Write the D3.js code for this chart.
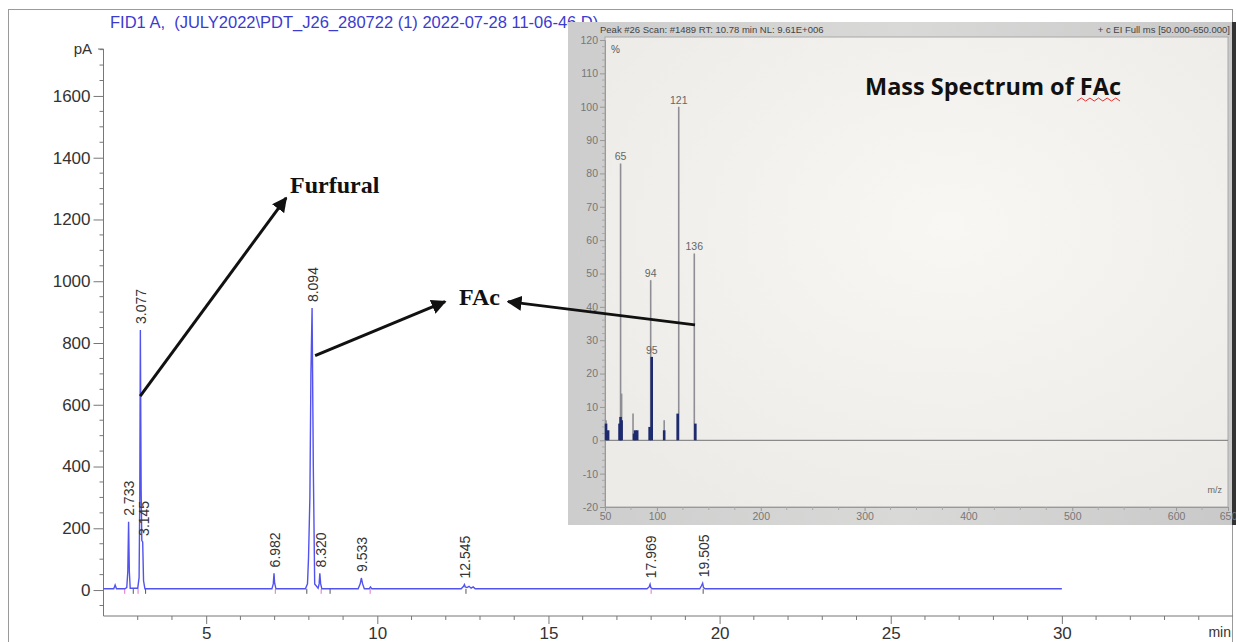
<html>
  <head>
    <meta charset="utf-8">
    <style>
      body { margin: 0; background: #fff; }
      text { font-family: "Liberation Sans", Arial, sans-serif; }
    </style>
  </head>
  <body>
    <div id="chart">
      <svg width=1236 height=642></svg>
    </div>
    <script type="text/javascript" src="https://cdnjs.cloudflare.com/ajax/libs/d3/7.8.5/d3.min.js"></script>
    <script type="text/javascript">
// chromatogram trace (min, pA)
var traceT = [2.0, 2.30, 2.34, 2.38, 2.62, 2.68, 2.71, 2.733, 2.755, 2.78, 3.00, 3.04, 3.06, 3.077, 3.10, 3.12, 3.145, 3.17, 3.21,
              6.92, 6.96, 6.982, 7.00, 7.04, 7.90, 7.96, 7.99, 8.03, 8.06, 8.094, 8.13, 8.17, 8.27, 8.30, 8.320, 8.345, 8.38,
              9.44, 9.50, 9.533, 9.57, 9.62, 9.76, 9.80, 9.84, 12.45, 12.52, 12.545, 12.57, 12.62, 12.68, 12.74, 12.80, 12.86,
              17.88, 17.94, 17.969, 17.99, 18.04, 19.42, 19.47, 19.505, 19.53, 19.58, 30.0];
var traceY = [4, 4, 16, 4, 4, 8, 60, 221, 60, 6, 6, 40, 300, 842, 320, 160, 156, 30, 4,
              4, 20, 54, 22, 4, 4, 20, 105, 300, 700, 913, 400, 20, 6, 20, 54, 20, 4,
              4, 20, 39, 20, 4, 4, 10, 4, 4, 12, 18, 10, 8, 12, 6, 10, 4,
              4, 10, 19, 8, 4, 4, 14, 22, 8, 4, 4];

var peakT = [2.733, 3.077, 3.145, 6.982, 8.094, 8.320, 9.533, 12.545, 17.969, 19.505];
var peakH = [221, 842, 156, 54, 913, 54, 39, 18, 19, 22];
var peakLabels = ["2.733", "3.077", "3.145", "6.982", "8.094", "8.320", "9.533", "12.545", "17.969", "19.505"];
var markT = [2.62, 2.87, 3.01, 3.23, 7.02, 7.94, 8.36, 8.62, 9.79, 12.59, 18.0, 19.52];

var yTicks = [0, 200, 400, 600, 800, 1000, 1200, 1400, 1600];
var xTicks = [5, 10, 15, 20, 25, 30];

// mass spectrum inset (m/z, %)
var msMz = [51, 65, 66, 77, 94, 107, 121, 136];
var msInt = [6, 83, 14, 8, 48, 6, 100, 56];
var baseMz = [51, 53, 64, 65, 66, 78, 79, 81, 93, 95, 107, 120, 137];
var baseInt = [5, 3, 5, 7, 6, 2, 3, 3, 4, 25, 3, 8, 5];
var msLabelMz = [65, 94, 95, 121, 136];
var msLabelInt = [83, 48, 25, 100, 56];
var msYTicks = [-20, -10, 0, 10, 20, 30, 40, 50, 60, 70, 80, 90, 100, 110, 120];
var msXTicks = [50, 100, 200, 300, 400, 500, 600, 650];

function plain(d) { return String(d); }   // hyphen minus, no thousands comma

function draw_chart(selector) {
  var svg = d3.select(selector);

  var x = d3.scaleLinear().domain([2, 35]).range([103.5, 1233]);
  var y = d3.scaleLinear().domain([-84, 1752]).range([616, 49]);

  // outer frame
  svg.append('rect').attr('x', 8.5).attr('y', 9.5).attr('width', 1224).attr('height', 640)
     .attr('fill', 'none').attr('stroke', '#9a9a9a');

  svg.append('text').attr('x', 110).attr('y', 28).style('white-space', 'pre')
     .style('font-size', '16.5px').attr('fill', '#3b3bd0')
     .text('FID1 A,  (JULY2022\\PDT_J26_280722 (1) 2022-07-28 11-06-46.D)');

  // y axis
  var yAxis = d3.axisLeft(y).tickValues(yTicks).tickFormat(plain).tickSize(10).tickPadding(3);
  var gy = svg.append('g').attr('transform', 'translate(103.5,0)').call(yAxis);
  gy.select('.domain').attr('d', 'M0,' + y(1752) + 'V' + y(-84)).attr('stroke', '#777');
  gy.selectAll('.tick line').attr('stroke', '#777');
  gy.selectAll('.tick text').style('font-size', '17px').attr('fill', '#333')
    .style('font-family', '"Liberation Sans", Arial, sans-serif');
  gy.selectAll('.minor').data(d3.range(-50, 1751, 50).filter(function(d) { return d % 200 != 0; }))
    .enter().append('line').attr('x1', -4).attr('x2', 0)
    .attr('y1', function(d) { return y(d); }).attr('y2', function(d) { return y(d); })
    .attr('stroke', '#777');
  svg.append('text').attr('x', 92).attr('y', y(1752) + 5).attr('text-anchor', 'end')
     .style('font-size', '15px').attr('fill', '#333').text('pA');
  svg.append('line').attr('x1', 98).attr('x2', 103.5).attr('y1', y(1752)).attr('y2', y(1752)).attr('stroke', '#777');

  // x axis
  var xAxis = d3.axisBottom(x).tickValues(xTicks).tickFormat(plain).tickSize(8).tickPadding(3);
  var gx = svg.append('g').attr('transform', 'translate(0,616)').call(xAxis);
  gx.select('.domain').attr('d', 'M' + x(2) + ',0H' + x(35)).attr('stroke', '#777');
  gx.selectAll('.tick line').attr('stroke', '#777');
  gx.selectAll('.tick text').style('font-size', '17px').attr('fill', '#333')
    .style('font-family', '"Liberation Sans", Arial, sans-serif');
  gx.selectAll('.minor').data(d3.range(3, 35, 1).filter(function(d) { return d % 5 != 0; }))
    .enter().append('line').attr('y1', 0).attr('y2', 4)
    .attr('x1', function(d) { return x(d); }).attr('x2', function(d) { return x(d); })
    .attr('stroke', '#777');
  svg.append('text').attr('x', 1231).attr('y', 637).attr('text-anchor', 'end')
     .style('font-size', '14px').attr('fill', '#333').text('min');

  // integration marks
  svg.selectAll('.mark').data(markT).enter().append('line')
     .attr('x1', function(d) { return x(d); }).attr('x2', function(d) { return x(d); })
     .attr('y1', y(4)).attr('y2', y(4) + 5)
     .attr('stroke', function(d, i) { return i % 2 ? '#555' : '#e070d0'; }).attr('stroke-width', 1);

  // trace
  var line = d3.line().x(function(d) { return x(d[0]); }).y(function(d) { return y(d[1]); });
  svg.append('path').datum(d3.zip(traceT, traceY)).attr('d', line)
     .attr('fill', 'none').attr('stroke', '#5252ee').attr('stroke-width', 1.4);

  svg.selectAll('.plabel').data(peakLabels).enter().append('text')
     .attr('transform', function(d, i) { return 'translate(' + (x(peakT[i]) + 1) + ',' + (y(peakH[i]) - 6) + ') rotate(-90)'; })
     .attr('dy', '0.35em').style('font-size', '14px').attr('fill', '#333').text(function(d) { return d; });

  // ---- inset mass spectrum ----
  var mx = d3.scaleLinear().domain([50, 650]).range([605, 1228]);
  var my = d3.scaleLinear().domain([-20, 120]).range([507, 40]);

  var defs = svg.append('defs');
  var g1 = defs.append('linearGradient').attr('id', 'outer').attr('x1', 0).attr('x2', 1);
  g1.append('stop').attr('offset', 0).attr('stop-color', '#cdcdcd');
  g1.append('stop').attr('offset', 0.5).attr('stop-color', '#d9d9d8');
  g1.append('stop').attr('offset', 1).attr('stop-color', '#c9c9c9');
  var g2 = defs.append('radialGradient').attr('id', 'inner').attr('cx', 0.55).attr('cy', 0.4).attr('r', 0.7);
  g2.append('stop').attr('offset', 0).attr('stop-color', '#f8f7f4');
  g2.append('stop').attr('offset', 1).attr('stop-color', '#ecebe7');

  svg.append('rect').attr('x', 568).attr('y', 22).attr('width', 668).attr('height', 503).attr('fill', 'url(#outer)');
  svg.append('rect').attr('x', mx(50)).attr('y', 37).attr('width', mx(650) - mx(50)).attr('height', my(-20) - 37)
     .attr('fill', 'url(#inner)').attr('stroke', '#a8a8a8');
  svg.append('rect').attr('x', 1232).attr('y', 22).attr('width', 4).attr('height', 503).attr('fill', '#333');

  svg.append('text').attr('x', 600).attr('y', 33).style('font-size', '9.5px').attr('fill', '#444')
     .text('Peak #26 Scan: #1489  RT: 10.78 min  NL: 9.61E+006');
  svg.append('text').attr('x', 1230).attr('y', 33).attr('text-anchor', 'end').style('font-size', '9.5px').attr('fill', '#444')
     .text('+ c EI Full ms [50.000-650.000]');
  svg.append('text').attr('x', 611).attr('y', 53).style('font-size', '10px').attr('fill', '#555').text('%');
  svg.append('text').attr('x', 1222).attr('y', 493).attr('text-anchor', 'end').style('font-size', '9px').attr('fill', '#666').text('m/z');

  var iy = d3.axisLeft(my).tickValues(msYTicks).tickFormat(plain).tickSize(5).tickPadding(2);
  var giy = svg.append('g').attr('transform', 'translate(' + mx(50) + ',0)').call(iy);
  giy.select('.domain').attr('stroke', '#999');
  giy.selectAll('.tick line').attr('stroke', '#999');
  giy.selectAll('.tick text').style('font-size', '10.5px').attr('fill', '#777')
     .style('font-family', '"Liberation Sans", Arial, sans-serif');
  giy.selectAll('.minor').data(d3.range(-18, 120, 2).filter(function(d) { return d % 10 != 0; }))
     .enter().append('line').attr('x1', -3).attr('x2', 0)
     .attr('y1', function(d) { return my(d); }).attr('y2', function(d) { return my(d); }).attr('stroke', '#aaa');

  var ix = d3.axisBottom(mx).tickValues(msXTicks).tickFormat(plain).tickSize(4).tickPadding(2);
  var gix = svg.append('g').attr('transform', 'translate(0,' + my(-20) + ')').call(ix);
  gix.select('.domain').attr('stroke', '#999');
  gix.selectAll('.tick line').attr('stroke', '#999');
  gix.selectAll('.tick text').style('font-size', '10.5px').attr('fill', '#777')
     .style('font-family', '"Liberation Sans", Arial, sans-serif');
  gix.selectAll('.minor').data(d3.range(75, 650, 25).filter(function(d) { return d % 100 != 0; }))
     .enter().append('line').attr('y1', 0).attr('y2', 3)
     .attr('x1', function(d) { return mx(d); }).attr('x2', function(d) { return mx(d); }).attr('stroke', '#aaa');

  svg.append('line').attr('x1', mx(50)).attr('x2', mx(650)).attr('y1', my(0)).attr('y2', my(0))
     .attr('stroke', '#8a8a8a').attr('stroke-width', 1.2);

  svg.selectAll('.stem').data(msMz).enter().append('line')
     .attr('x1', function(d) { return mx(d); }).attr('x2', function(d) { return mx(d); })
     .attr('y1', my(0)).attr('y2', function(d, i) { return my(msInt[i]); })
     .attr('stroke', '#8e8e94').attr('stroke-width', 1.6);
  svg.selectAll('.base').data(baseMz).enter().append('line')
     .attr('x1', function(d) { return mx(d); }).attr('x2', function(d) { return mx(d); })
     .attr('y1', my(0)).attr('y2', function(d, i) { return my(baseInt[i]); })
     .attr('stroke', '#1d2a6e').attr('stroke-width', 2.6);
  svg.selectAll('.mslabel').data(msLabelMz).enter().append('text')
     .attr('x', function(d) { return mx(d); }).attr('y', function(d, i) { return my(msLabelInt[i]) - 3; })
     .attr('text-anchor', 'middle').style('font-size', '10.5px').attr('fill', '#666').text(function(d) { return d; });

  var msTitle = svg.append('text').attr('x', mx(300.4)).attr('y', my(103.5))
     .style('font-family', '"Open Sans", sans-serif').style('font-weight', 'bold').style('font-size', '23.5px')
     .attr('fill', '#111').text('Mass Spectrum of FAc');
  // spell-check squiggle under the last word
  var tEnd = mx(300.4) + msTitle.node().getComputedTextLength();
  svg.append('path').attr('d', d3.range(0, 11).map(function(i) {
        return (i ? 'L' : 'M') + (tEnd - 44 + i * 4.3) + ',' + (my(103.5) + (i % 2 ? 3 : 6));
     }).join(''))
     .attr('fill', 'none').attr('stroke', '#e03030').attr('stroke-width', 1);

  // ---- annotations ----
  defs.append('marker').attr('id', 'arrow').attr('viewBox', '0 0 10 10').attr('refX', 9).attr('refY', 5)
      .attr('markerWidth', 5).attr('markerHeight', 5).attr('orient', 'auto-start-reverse')
      .append('path').attr('d', 'M0,0L10,5L0,10z').attr('fill', '#111');

  var arrows = [
    [x(3.072), y(628), x(7.336), y(1270)],
    [x(8.183), y(759), x(11.98), y(934)],
    [mx(136.7), my(34.6), x(13.82), y(934)]
  ];
  svg.selectAll('.arrow').data(arrows).enter().append('line')
     .attr('x1', function(d) { return d[0]; }).attr('y1', function(d) { return d[1]; })
     .attr('x2', function(d) { return d[2]; }).attr('y2', function(d) { return d[3]; })
     .attr('stroke', '#111').attr('stroke-width', 3).attr('marker-end', 'url(#arrow)');

  svg.append('text').attr('x', x(7.45)).attr('y', y(1285))
     .style('font-family', '"Liberation Serif", "Times New Roman", serif').style('font-weight', 'bold')
     .style('font-size', '24px').attr('fill', '#111').text('Furfural');
  svg.append('text').attr('x', x(12.39)).attr('y', y(923))
     .style('font-family', '"Liberation Serif", "Times New Roman", serif').style('font-weight', 'bold')
     .style('font-size', '24px').attr('fill', '#111').text('FAc');
}

draw_chart('#chart svg');
    </script>
  </body>
</html>
